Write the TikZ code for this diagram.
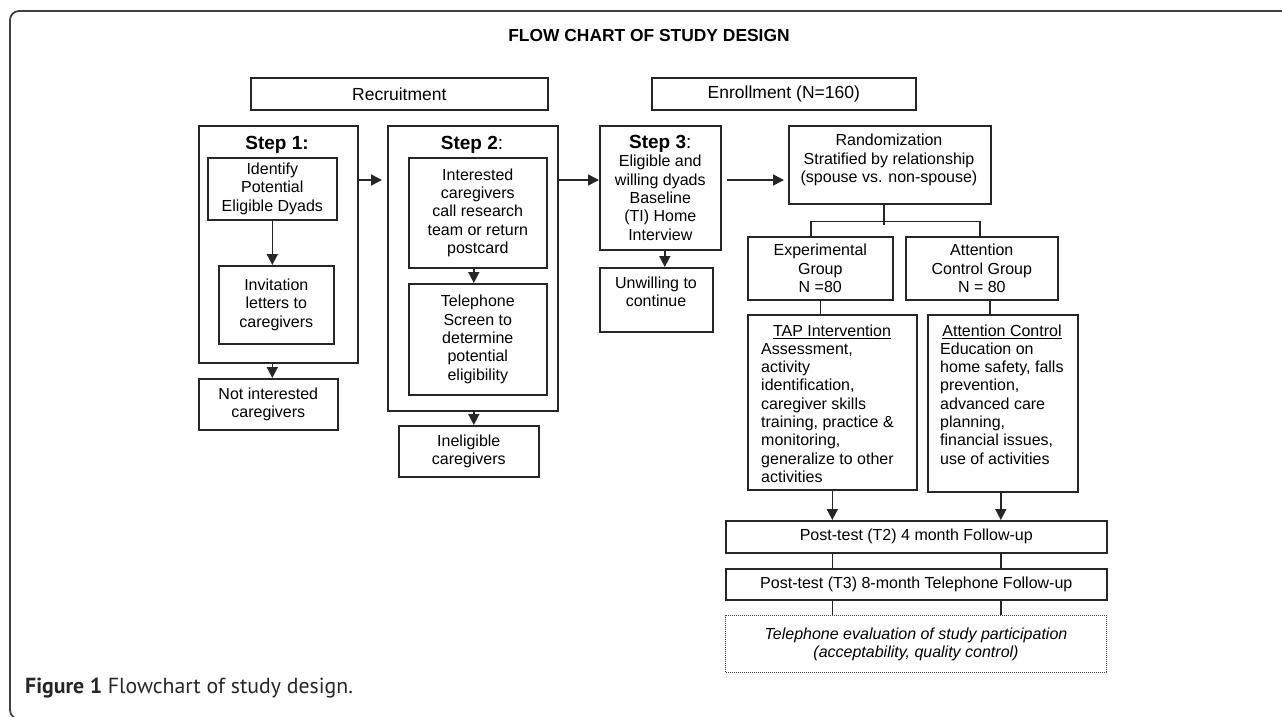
\documentclass[tikz,border=0pt]{standalone}
\usepackage{fontspec}
\setmainfont{Liberation Sans}
\newfontfamily\capfont{PT Sans}
\usetikzlibrary{arrows.meta,calc}
\newcommand\bodyfs{\fontsize{16}{18.3}\selectfont}
\newcommand\headfs{\fontsize{17.5}{20}\selectfont}
\newcommand\stepfs{\fontsize{19}{22}\selectfont}
\begin{document}
\begin{tikzpicture}[x=1pt,y=-1pt,
  box/.style={draw=black!85, line width=1.6pt, inner sep=0pt, anchor=north west, align=center, font=\bodyfs},
  txt/.style={inner sep=0pt, align=center, font=\bodyfs},
  arr/.style={line width=1.6pt, draw=black!85, -{Triangle[length=11pt,width=11pt]}},
  ln/.style={line width=1.6pt, draw=black!85},
  ]
\useasboundingbox (0,0) rectangle (1282,716);
\clip (0,0) rectangle (1282,716);
% frame
\draw[line width=1.8pt, black!75, rounded corners=9pt] (1300,11) -- (10,11) -- (10,719) -- (1300,719);
% title
\node[inner sep=0pt, font=\fontsize{17.4}{20}\selectfont\bfseries] (title) at (649,36) {FLOW CHART OF STUDY DESIGN};
% headers
\node[box, font=\headfs, minimum width=297pt, minimum height=32pt] (rec) at (250,77) {Recruitment};
\node[box, font=\headfs, minimum width=264pt, minimum height=32pt] (enr) at (651,77) {Enrollment (N=160)};
% step 1
\node[box, minimum width=159pt, minimum height=237pt] (s1) at (198,125) {};
\node[txt, font=\stepfs\bfseries] (s1lab) at (277,145) {Step 1:};
\node[box, minimum width=129pt, minimum height=62pt] (ident) at (207,157) {Identify\\Potential\\Eligible Dyads};
\node[box, minimum width=115pt, minimum height=78pt] (invit) at (218,265) {Invitation\\letters to\\caregivers};
\node[box, minimum width=139pt, minimum height=51pt] (notint) at (198,378) {Not interested\\caregivers};
% step 2
\node[box, minimum width=170pt, minimum height=285pt] (s2) at (387,125) {};
\node[txt, font=\stepfs] (s2lab) at (472,145) {\textbf{Step 2}:};
\node[box, minimum width=138pt, minimum height=110pt] (inter) at (408,157) {Interested\\caregivers\\call research\\team or return\\postcard};
\node[box, minimum width=138pt, minimum height=111pt] (tel) at (408,283) {Telephone\\Screen to\\determine\\potential\\eligibility};
\node[box, minimum width=140pt, minimum height=51pt] (inel) at (398,425) {Ineligible\\caregivers};
% step 3
\node[box, minimum width=121pt, minimum height=124pt] (s3) at (599,125) {{\stepfs\textbf{Step 3}:}\\Eligible and\\willing dyads\\Baseline\\(TI) Home\\Interview};
\node[box, minimum width=113pt, minimum height=64pt] (unw) at (599,267) {};
\node[txt] (unwt) at (656,292) {Unwilling to\\continue};
% randomization
\node[box, minimum width=202pt, minimum height=78pt] (rand) at (788,125) {};
\node[txt] (randt) at (889,160) {Randomization\\Stratified by relationship\\(spouse vs. non-spouse)};
\node[box, minimum width=145pt, minimum height=63pt] (exp) at (747,236) {Experimental\\Group\\N =80};
\node[box, minimum width=152pt, minimum height=63pt] (att) at (905,236) {Attention\\Control Group\\N = 80};
% interventions
\node[box, minimum width=169pt, minimum height=175pt] (tap) at (747,314) {};
\node[txt] (taph) at (832,332) {\underline{TAP Intervention}};
\node[txt, align=left, anchor=west] (tapb) at (761,413) {Assessment,\\activity\\identification,\\caregiver skills\\training, practice \&\\monitoring,\\generalize to other\\activities};
\node[box, minimum width=150pt, minimum height=177pt] (ac) at (927,314) {};
\node[txt] (ach) at (1002,332) {\underline{Attention Control}};
\node[txt, align=left, anchor=west] (acb) at (940,403.5) {Education on\\home safety, falls\\prevention,\\advanced care\\planning,\\financial issues,\\use of activities};
% follow-ups
\node[box, minimum width=381pt, minimum height=32pt] (pt2) at (725,520) {Post-test (T2) 4 month Follow-up};
\node[box, minimum width=381pt, minimum height=31pt] (pt3) at (725,568) {Post-test (T3) 8-month Telephone Follow-up};
\node[box, draw=black!75, line width=1pt, densely dotted, minimum width=381pt, minimum height=57pt, font=\bodyfs\itshape] (teval) at (725,615) {Telephone evaluation of study participation\\(acceptability, quality control)};
% caption
\node[inner sep=0pt, anchor=west, text=black!85, font=\capfont\fontsize{21.8}{26}\selectfont] (cap) at (25,688) {\textbf{Figure 1} Flowchart of study design.};
% connectors
\draw[arr] (ident.south) -- (ident.south |- invit.north);
\draw[arr] (ident.south |- s1.south) -- (ident.south |- notint.north);
\draw[arr] ($(s1.north east)+(0,55)$) -- ($(s2.north west)+(-5,55)$);
\draw[arr] ([xshift=-4pt]inter.south) -- ([xshift=-4pt]tel.north);
\draw[arr] ([xshift=-4pt]inter.south |- s2.south) -- ([xshift=-4pt]inter.south |- inel.north);
\draw[arr] ($(s2.north east)+(0,55)$) -- ($(s3.north west)+(0,55)$);
\draw[arr] ([xshift=4.5pt]s3.south) -- ([xshift=4.5pt]s3.south |- unw.north);
\draw[arr] ($(s3.north east)+(5,55)$) -- ($(rand.north west)+(-4,55)$);
\coordinate (br) at ($(rand.south)+(-6,17)$);
\draw[ln] ([xshift=-6pt]rand.south) -- ++(0,20);
\draw[ln] ([xshift=-9.5pt]exp.north) |- (br) -| ([xshift=-2pt]att.north);
\draw[ln] (exp.south) -- (exp.south |- tap.north);
\draw[ln] ([xshift=8pt]att.south) -- ([xshift=8pt]att.south |- ac.north);
\draw[arr] (tap.south) -- (tap.south |- pt2.north);
\draw[arr] ([xshift=-2pt]ac.south) -- ([xshift=-2pt]ac.south |- pt2.north);
\draw[ln] (tap.south |- pt2.south) -- (tap.south |- pt3.north);
\draw[ln] ([xshift=-2pt]ac.south |- pt2.south) -- ([xshift=-2pt]ac.south |- pt3.north);
\draw[ln] (tap.south |- pt3.south) -- (tap.south |- teval.north);
\draw[ln] ([xshift=-2pt]ac.south |- pt3.south) -- ([xshift=-2pt]ac.south |- teval.north);
\end{tikzpicture}
\end{document}
